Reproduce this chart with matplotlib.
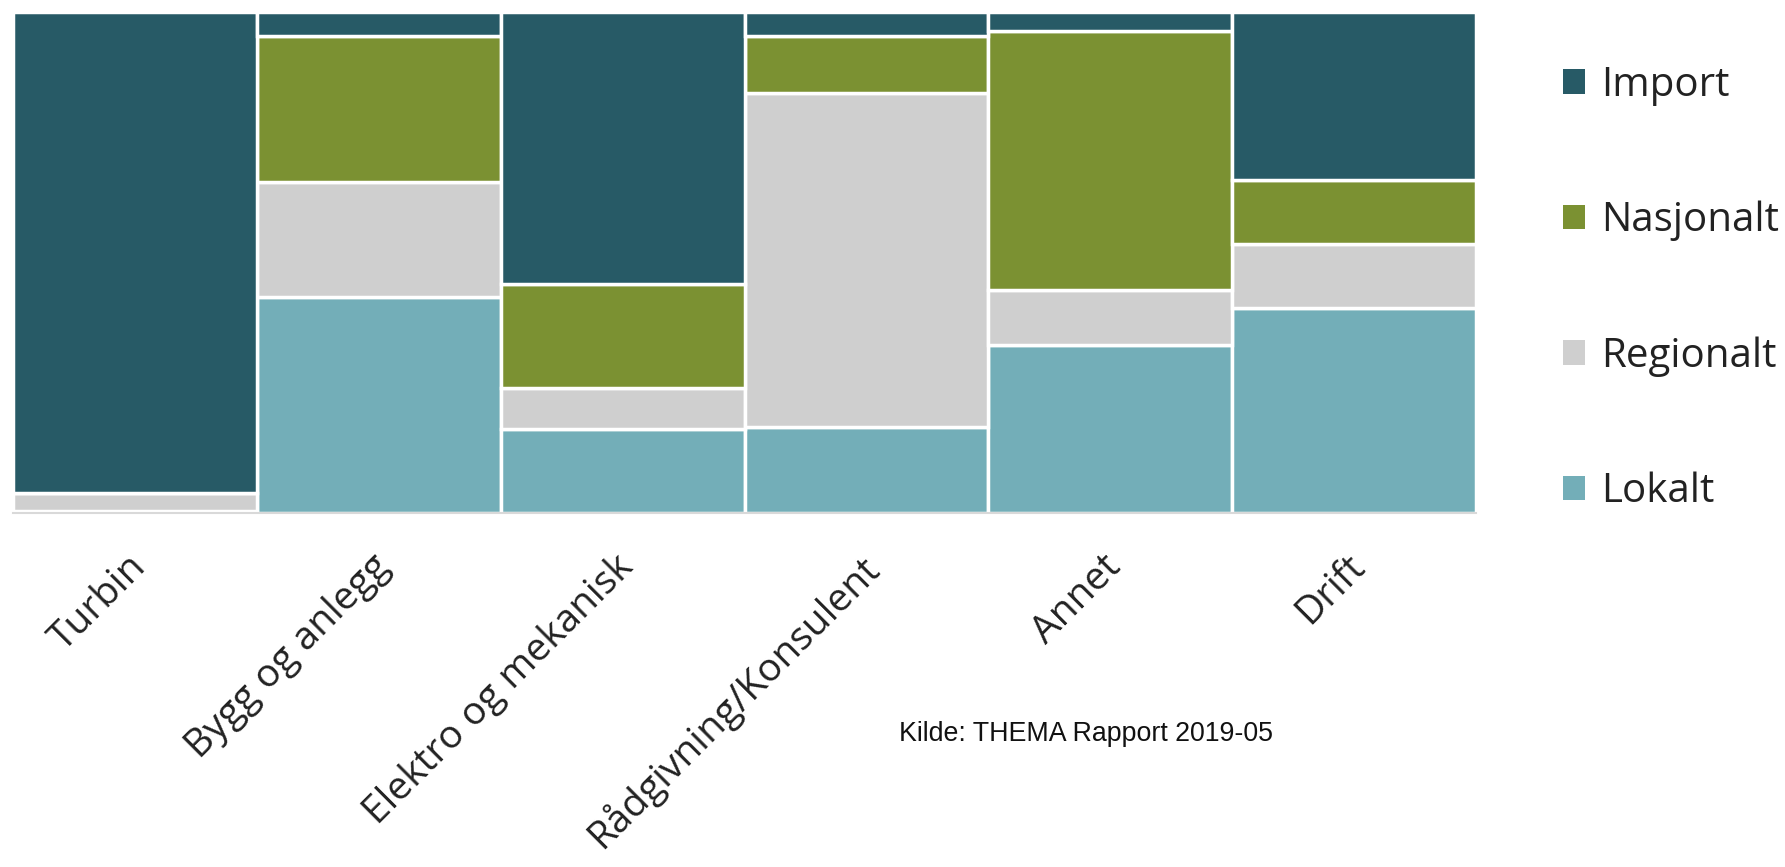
import matplotlib.pyplot as plt
import matplotlib.transforms as mtransforms
import numpy as np

# Andel av leveranser per kategori (prosent), lest av figuren
categories = ["Turbin", "Bygg og anlegg", "Elektro og mekanisk",
              "Rådgivning/Konsulent", "Annet", "Drift"]
lokalt = [0.4, 43.1, 16.7, 17.2, 33.5, 40.9]
regionalt = [3.6, 23.0, 8.3, 66.6, 10.9, 12.8]
nasjonalt = [0.0, 29.1, 20.6, 11.3, 51.7, 12.7]
import_ = [96.0, 4.8, 54.4, 4.9, 3.9, 33.6]

series = ["Lokalt", "Regionalt", "Nasjonalt", "Import"]
colors = {"Import": "#275A66", "Nasjonalt": "#7B9132",
          "Regionalt": "#CFCFCF", "Lokalt": "#73AEB8"}
SOURCE = "Kilde: THEMA Rapport 2019-05"


def main():
    values = {"Lokalt": lokalt, "Regionalt": regionalt,
              "Nasjonalt": nasjonalt, "Import": import_}

    fig = plt.figure(figsize=(17.85, 8.67), dpi=100)
    ax = fig.add_axes([0.0073, 0.4083, 0.8196, 0.5782])

    x = np.arange(len(categories))
    bottom = np.zeros(len(categories))
    handles = {}
    for name in series:
        vals = np.array(values[name])
        h = ax.bar(x, vals, width=1.0, bottom=bottom, color=colors[name],
                   edgecolor="white", linewidth=2.5, label=name)
        handles[name] = h
        bottom += vals

    ax.set_xlim(-0.5, len(categories) - 0.5)
    ax.set_ylim(0, 100)
    ax.set_yticks([])
    ax.set_xticks(x)
    ax.set_xticklabels(categories, rotation=45, ha="right",
                       rotation_mode="anchor", fontsize=28,
                       family="Open Sans", color="#222222")
    ax.tick_params(axis="x", length=0, pad=25)
    # nudge labels a little to the left
    shift = mtransforms.ScaledTranslation(-0.08, 0, fig.dpi_scale_trans)
    for lbl in ax.get_xticklabels():
        lbl.set_transform(lbl.get_transform() + shift)
    for side in ["top", "left", "right"]:
        ax.spines[side].set_visible(False)
    ax.spines["bottom"].set_color("#D9D9D9")
    ax.spines["bottom"].set_linewidth(1.5)

    # Legend, Import on top
    order = ["Import", "Nasjonalt", "Regionalt", "Lokalt"]
    leg = fig.legend([handles[n] for n in order], order,
                     loc="center left", bbox_to_anchor=(0.8555, 0.667),
                     frameon=False, prop={"family": "Open Sans", "size": 29},
                     handlelength=0.55, handleheight=0.55, handletextpad=0.38,
                     labelspacing=2.36)
    for patch in leg.get_patches():
        patch.set_edgecolor("none")
    for t in leg.get_texts():
        t.set_color("#222222")

    fig.text(0.5037, 0.1534, SOURCE, fontsize=19.3, family="Liberation Sans",
             color="#111111", va="center")

    fig.savefig("out.png", dpi=100)


if __name__ == "__main__":
    main()
